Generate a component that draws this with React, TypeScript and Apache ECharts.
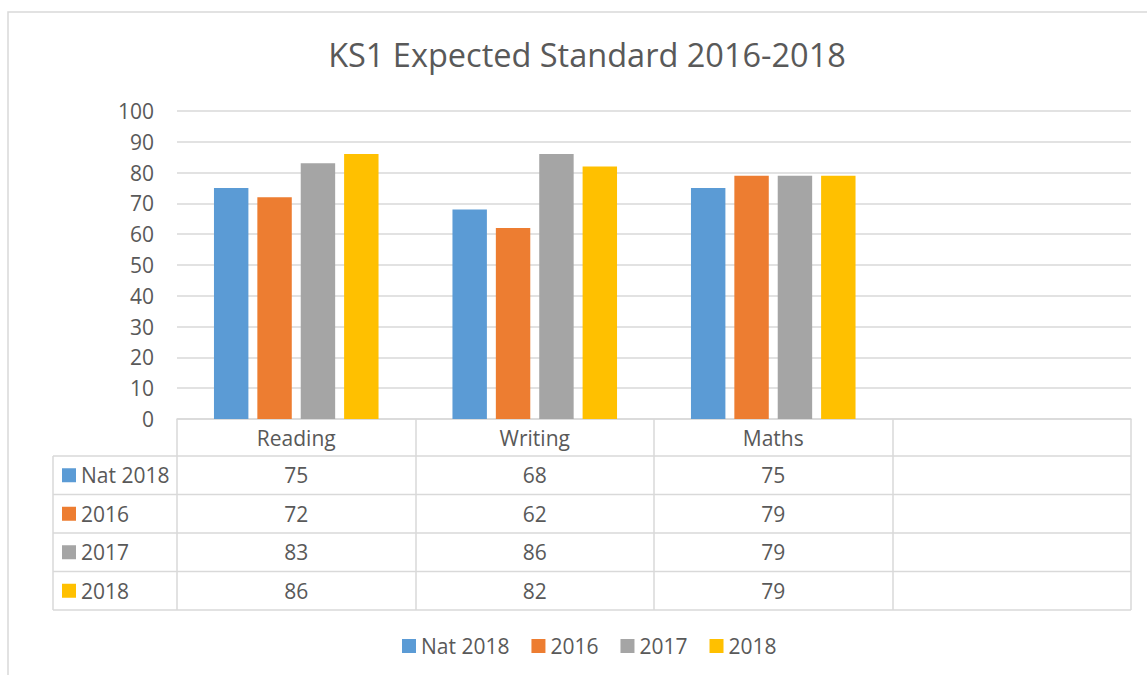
import React, { useEffect, useRef } from 'react';
import * as echarts from 'echarts';

// ---- data ----
const title = 'KS1 Expected Standard 2016-2018';
const categories = ['Reading', 'Writing', 'Maths'];
const seriesNames = ['Nat 2018', '2016', '2017', '2018'];
const nat2018 = [75, 68, 75];
const y2016 = [72, 62, 79];
const y2017 = [83, 86, 79];
const y2018 = [86, 82, 79];
const seriesValues = [nat2018, y2016, y2017, y2018];
const yMin = 0;
const yMax = 100;
const yInterval = 10;

// ---- style / layout ----
const colors = ['#5B9BD5', '#ED7D31', '#A5A5A5', '#FFC000'];
const TEXT = '#595959';
const LINE = '#D9D9D9';
const FONT = '"Open Sans", sans-serif';
const W = 1147;
const H = 675;
const GRID_LEFT = 177;
const GRID_RIGHT_X = 1131;
const GRID_TOP = 111;
const AXIS_Y = 419;
const HEADER_H = 37;
const ROW_H = 38.5;
const TABLE_LEFT = 53;

export default function App() {
  const ref = useRef<HTMLDivElement>(null);

  useEffect(() => {
    document.body.style.margin = '0';
    if (!ref.current) return;
    const chart = echarts.init(ref.current, undefined, { renderer: 'svg' });

    const axisData = [...categories, ''];
    const tableBottom = AXIS_Y + HEADER_H + ROW_H * seriesNames.length;

    const valueAxes = seriesValues.map((vals, i) => ({
      type: 'category',
      gridIndex: 0,
      position: 'bottom',
      offset: HEADER_H + ROW_H * i,
      data: [...vals.map(String), ''],
      axisLine: { show: false },
      axisTick: { show: false },
      splitLine: { show: false },
      axisLabel: {
        interval: 0,
        margin: ROW_H / 2,
        verticalAlign: 'middle',
        fontSize: 21,
        color: TEXT,
        fontFamily: FONT,
      },
    }));

    const hLines: any[] = [];
    for (let i = 0; i <= seriesNames.length; i++) {
      const y = AXIS_Y + HEADER_H + ROW_H * i;
      hLines.push({
        type: 'line',
        shape: { x1: TABLE_LEFT, y1: y, x2: GRID_RIGHT_X, y2: y },
        style: { stroke: LINE, lineWidth: 1.5 },
        silent: true,
      });
    }

    chart.setOption({
      animation: false,
      color: colors,
      textStyle: { fontFamily: FONT, color: TEXT },
      title: {
        text: title,
        left: 582,
        textAlign: 'center',
        top: 33,
        textStyle: { fontSize: 32.5, fontWeight: 'normal', color: TEXT, fontFamily: FONT },
      },
      grid: {
        left: GRID_LEFT,
        right: W - GRID_RIGHT_X,
        top: GRID_TOP,
        bottom: H - AXIS_Y,
        containLabel: false,
      },
      legend: [
        {
          data: seriesNames,
          orient: 'horizontal',
          left: 402,
          top: 634,
          padding: 0,
          icon: 'rect',
          itemWidth: 14,
          itemHeight: 14,
          itemGap: 22,
          selectedMode: false,
          textStyle: { fontSize: 21, color: TEXT, fontFamily: FONT, lineHeight: 24 },
        },
        {
          data: seriesNames,
          orient: 'vertical',
          left: 62,
          top: AXIS_Y + HEADER_H + ROW_H / 2 - 12,
          padding: 0,
          icon: 'rect',
          itemWidth: 14,
          itemHeight: 14,
          itemGap: ROW_H - 24,
          selectedMode: false,
          textStyle: { fontSize: 21, color: TEXT, fontFamily: FONT, lineHeight: 24 },
        },
      ],
      xAxis: [
        {
          type: 'category',
          gridIndex: 0,
          position: 'bottom',
          data: axisData,
          axisLine: { show: true, lineStyle: { color: LINE, width: 1.5 } },
          axisTick: {
            show: true,
            interval: 0,
            length: tableBottom - AXIS_Y,
            lineStyle: { color: LINE, width: 1.5 },
          },
          splitLine: { show: false },
          axisLabel: {
            interval: 0,
            margin: HEADER_H / 2,
            verticalAlign: 'middle',
            fontSize: 21,
            color: TEXT,
            fontFamily: FONT,
          },
        },
        ...valueAxes,
      ],
      yAxis: {
        type: 'value',
        min: yMin,
        max: yMax,
        interval: yInterval,
        axisLine: { show: false },
        axisTick: { show: false },
        splitLine: { show: true, lineStyle: { color: LINE, width: 1.5 } },
        axisLabel: { margin: 23, fontSize: 21, color: TEXT, fontFamily: FONT },
      },
      series: seriesNames.map((name, i) => ({
        name,
        type: 'bar',
        xAxisIndex: 0,
        data: seriesValues[i],
        barCategoryGap: '31%',
        barGap: '26%',
        itemStyle: { color: colors[i] },
      })),
      graphic: [
        {
          type: 'rect',
          shape: { x: 8, y: 12, width: W + 20, height: H + 20 },
          style: { fill: 'none', stroke: LINE, lineWidth: 1.5 },
          silent: true,
          z: -10,
        },
        {
          type: 'line',
          shape: { x1: TABLE_LEFT, y1: AXIS_Y + HEADER_H, x2: TABLE_LEFT, y2: tableBottom },
          style: { stroke: LINE, lineWidth: 1.5 },
          silent: true,
        },
        ...hLines,
      ],
    });

    return () => chart.dispose();
  }, []);

  return <div ref={ref} style={{ width: W, height: H }} />;
}
